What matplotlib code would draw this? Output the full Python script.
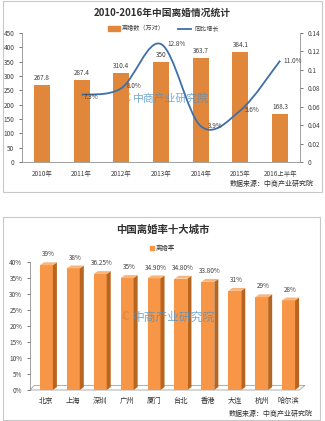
import numpy as np
import matplotlib.pyplot as plt
from matplotlib.patches import Rectangle, Polygon
from matplotlib.path import Path
from matplotlib.patches import PathPatch

plt.rcParams['font.family'] = ['Noto Sans CJK SC', 'DejaVu Sans']

# top chart data
years = ["2010年", "2011年", "2012年", "2013年", "2014年", "2015年", "2016上半年"]
divorces = [267.8, 287.4, 310.4, 350, 363.7, 384.1, 168.3]
divorce_labels = ["267.8", "287.4", "310.4", "350", "363.7", "384.1", "168.3"]
growth = [None, 0.073, 0.080, 0.128, 0.039, 0.056, 0.110]
growth_labels = ["", "7.3%", "8.0%", "12.8%", "3.9%", "5.6%", "11.0%"]

# bottom chart data
cities = ["北京", "上海", "深圳", "广州", "厦门", "台北", "香港", "大连", "杭州", "哈尔滨"]
rates = [39, 38, 36.25, 35, 34.90, 34.80, 33.80, 31, 29, 28]
rate_labels = ["39%", "38%", "36.25%", "35%", "34.90%", "34.80%", "33.80%", "31%", "29%", "28%"]

W, H = 325, 421
fig = plt.figure(figsize=(W / 100, H / 100), dpi=100)

def fx(px):
    return px / W

def fy(py):
    return 1 - py / H

# panel frames
fig.patches.append(Rectangle((fx(3), fy(192)), fx(322) - fx(3), fy(1) - fy(192),
                             transform=fig.transFigure, fill=False, ec='#c8c8c8', lw=0.8))
fig.patches.append(Rectangle((fx(3), fy(420)), fx(320) - fx(3), fy(217) - fy(420),
                             transform=fig.transFigure, fill=False, ec='#c8c8c8', lw=0.8))

# ---------- top chart ----------
bar_c = '#E0873C'
line_c = '#3F6FA8'
ax = fig.add_axes([fx(22), fy(162), fx(300) - fx(22), fy(33) - fy(162)])
x = np.arange(len(years))
ax.bar(x, divorces, width=0.4, color=bar_c)
for i, v in enumerate(divorces):
    ax.text(i, v + 10, divorce_labels[i], ha='center', va='bottom', fontsize=4.6, color='#404040')
ax.set_xlim(-0.5, len(years) - 0.5)
ax.set_ylim(0, 450)
ax.set_yticks(range(0, 451, 50))
ax.set_xticks(x)
ax.set_xticklabels(years)
ax.tick_params(axis='both', labelsize=4.6, colors='#404040', length=2, width=0.5)
ax.tick_params(axis='x', length=0, pad=6)
for s in ['top', 'right']:
    ax.spines[s].set_visible(False)
for s in ['left', 'bottom']:
    ax.spines[s].set_color('#909090')
    ax.spines[s].set_linewidth(0.6)

ax2 = ax.twinx()
ax2.set_ylim(0, 0.14)
ax2.set_yticks([0, 0.02, 0.04, 0.06, 0.08, 0.1, 0.12, 0.14])
ax2.set_yticklabels(["0", "0.02", "0.04", "0.06", "0.08", "0.1", "0.12", "0.14"])
ax2.tick_params(axis='y', labelsize=4.6, colors='#404040', length=2, width=0.5)
for s in ['top', 'left', 'bottom']:
    ax2.spines[s].set_visible(False)
ax2.spines['right'].set_color('#909090')
ax2.spines['right'].set_linewidth(0.6)

# smoothed line (Catmull-Rom style bezier through the points)
gx = [i for i, g in enumerate(growth) if g is not None]
gy = [g for g in growth if g is not None]
pts = list(zip(gx, gy))
verts = [pts[0]]
codes = [Path.MOVETO]
for k in range(len(pts) - 1):
    p0 = pts[k - 1] if k > 0 else pts[k]
    p1 = pts[k]
    p2 = pts[k + 1]
    p3 = pts[k + 2] if k + 2 < len(pts) else pts[k + 1]
    c1 = (p1[0] + (p2[0] - p0[0]) / 6, p1[1] + (p2[1] - p0[1]) / 6)
    c2 = (p2[0] - (p3[0] - p1[0]) / 6, p2[1] - (p3[1] - p1[1]) / 6)
    verts += [c1, c2, p2]
    codes += [Path.CURVE4] * 3
ax2.add_patch(PathPatch(Path(verts, codes), fill=False, ec=line_c, lw=1.3))

offs = {1: (0.05, -0.002, 'left', 'center'), 2: (0.15, 0.002, 'left', 'center'),
        3: (0.15, 0.0, 'left', 'center'), 4: (0.17, 0.0, 'left', 'center'),
        5: (0.12, 0.0, 'left', 'center'), 6: (0.08, 0.0, 'left', 'center')}
for i in gx:
    dx, dy, ha, va = offs[i]
    ax2.text(i + dx, growth[i] + dy, growth_labels[i], ha=ha, va=va, fontsize=4.6, color='#404040')

# legend
fig.patches.append(Rectangle((fx(108), fy(31)), fx(12), fy(26) - fy(31),
                             transform=fig.transFigure, color=bar_c))
fig.text(fx(122), fy(28.5), "离婚数（万对）", fontsize=4.4, va='center', color='#404040')
fig.lines.append(plt.Line2D([fx(178), fx(191)], [fy(28.5), fy(28.5)],
                            transform=fig.transFigure, color=line_c, lw=1.3))
fig.text(fx(194), fy(28.5), "同比增长", fontsize=4.4, va='center', color='#404040')

fig.text(0.5, fy(13), "2010-2016年中国离婚情况统计", ha='center', va='center',
         fontsize=7, fontweight='bold', color='#303030')
fig.text(fx(314), fy(184), "数据来源：中商产业研究院", ha='right', va='center',
         fontsize=5, color='#303030')
fig.text(fx(133), fy(98), "中商产业研究院", ha='left', va='center', fontsize=7.8,
         color='#4A90C8', alpha=0.75)
fig.text(fx(127), fy(98), "C", ha='center', va='center', fontsize=7.8,
         color='#E0873C', fontweight='bold', alpha=0.8)

# ---------- bottom chart ----------
front_c = '#F79646'
side_c = '#B8661F'
top_c = '#FBB57A'
bx = fig.add_axes([fx(30), fy(390), fx(305) - fx(30), fy(262) - fy(390)])
bx.set_xlim(-0.61, 9.61)
bx.set_ylim(0, 40)
xb = np.arange(len(cities))
bw = 0.48
ddx, ddy = 0.15, 0.9
# floor
bx.add_patch(Polygon([(-0.61, 0), (9.4, 0), (9.61, ddy * 1.6), (-0.45, ddy * 1.6)],
                     closed=True, fc='white', ec='#a0a0a0', lw=0.6, clip_on=False))
bx.bar(xb, rates, width=bw, color=front_c, zorder=3)
for i, v in enumerate(rates):
    l, r = i - bw / 2, i + bw / 2
    bx.add_patch(Polygon([(r, 0), (r + ddx, ddy), (r + ddx, v + ddy), (r, v)],
                         closed=True, fc=side_c, ec='none', zorder=3, clip_on=False))
    bx.add_patch(Polygon([(l, v), (r, v), (r + ddx, v + ddy), (l + ddx, v + ddy)],
                         closed=True, fc=top_c, ec='none', zorder=3, clip_on=False))
    bx.text(i + ddx / 2, v + ddy + 1.2, rate_labels[i], ha='center', va='bottom',
            fontsize=4.6, color='#404040')
bx.set_yticks(range(0, 41, 5))
bx.set_yticklabels([f"{t}%" for t in range(0, 41, 5)])
bx.set_xticks(xb)
bx.set_xticklabels(cities)
bx.tick_params(axis='y', labelsize=4.6, colors='#404040', length=2, width=0.5)
bx.tick_params(axis='x', labelsize=5.2, colors='#303030', length=0, pad=5)
for s in ['top', 'right', 'bottom']:
    bx.spines[s].set_visible(False)
bx.spines['left'].set_color('#909090')
bx.spines['left'].set_linewidth(0.6)

fig.patches.append(Rectangle((fx(150), fy(249.5)), fx(4), fy(245.5) - fy(249.5),
                             transform=fig.transFigure, color=front_c))
fig.text(fx(156), fy(247.5), "离婚率", fontsize=4.6, va='center', color='#404040')
fig.text(0.5, fy(230), "中国离婚率十大城市", ha='center', va='center',
         fontsize=7.5, fontweight='bold', color='#303030')
fig.text(fx(313), fy(414), "数据来源：中商产业研究院", ha='right', va='center',
         fontsize=5, color='#303030')
fig.text(fx(133), fy(317), "中商产业研究院", ha='left', va='center', fontsize=8.5,
         color='#4A90C8', alpha=0.75)
fig.text(fx(125), fy(317), "C", ha='center', va='center', fontsize=8.5,
         color='#E0873C', fontweight='bold', alpha=0.8)

fig.savefig("out.png", dpi=100)
